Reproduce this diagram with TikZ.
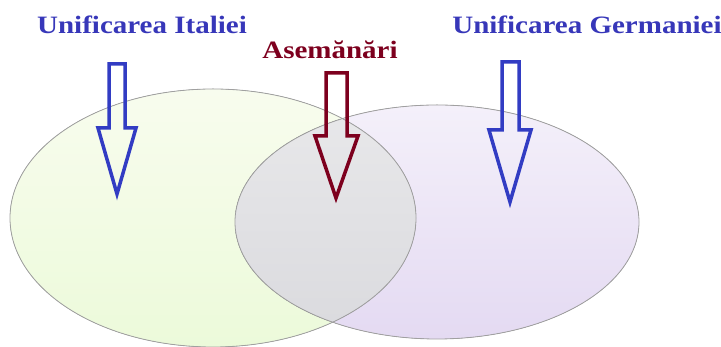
\documentclass[tikz,border=0pt]{standalone}
\usepackage{fontspec}
\usepackage{graphicx}
\setmainfont{Liberation Serif}
\definecolor{tblue}{RGB}{55,55,185}
\definecolor{ablue}{RGB}{50,60,195}
\definecolor{tred}{RGB}{125,0,30}
\definecolor{gtop}{RGB}{248,252,238}
\definecolor{gbot}{RGB}{236,250,218}
\definecolor{ltop}{RGB}{244,240,250}
\definecolor{lbot}{RGB}{228,218,242}
\definecolor{otop}{RGB}{232,232,234}
\definecolor{obot}{RGB}{218,218,222}
\definecolor{edge}{RGB}{160,160,160}
\newcommand{\wide}[1]{\scalebox{1.16}[1]{#1}}
\tikzset{
  title/.style={font=\fontsize{25}{25}\selectfont\bfseries, inner sep=0pt},
  ring/.style={draw=edge, line width=0.8pt},
  hollow/.style={line width=3.5pt, line join=miter}
}
\begin{document}
\begin{tikzpicture}[x=1pt,y=1pt]
\useasboundingbox (0,0) rectangle (721,347);
% ellipses
\fill[top color=gtop, bottom color=gbot] (213,129) ellipse (203 and 129);
\fill[top color=ltop, bottom color=lbot] (437,125) ellipse (202 and 117);
\begin{scope}
  \clip (213,129) ellipse (203 and 129);
  \fill[top color=otop, bottom color=obot] (437,125) ellipse (202 and 117);
\end{scope}
\draw[ring] (213,129) ellipse (203 and 129);
\draw[ring] (437,125) ellipse (202 and 117);
% titles
\node[title, text=tblue] (it) at (142,322) {\wide{Unificarea Italiei}};
\node[title, text=tblue] (ge) at (587,322) {\wide{Unificarea Germaniei}};
\node[title, text=tred] (as) at (330,297) {\wide{Asemănări}};
% arrows
\draw[hollow, draw=ablue] (109,283) -- (125,283) -- (125,219) -- (136,219) -- (117,153) -- (98,219) -- (109,219) -- cycle;
\draw[hollow, draw=tred] (326,274) -- (347,274) -- (347,211) -- (358,211) -- (336,149) -- (315,211) -- (326,211) -- cycle;
\draw[hollow, draw=ablue] (502,285) -- (519,285) -- (519,217) -- (531,217) -- (510,145) -- (489,217) -- (502,217) -- cycle;
\end{tikzpicture}
\end{document}
